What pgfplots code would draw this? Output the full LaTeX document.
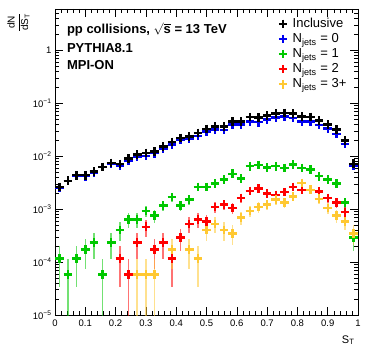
\documentclass[border=0pt]{standalone}
\usepackage{fontspec}
\setmainfont{Liberation Sans}
\usepackage{amsmath}
\usepackage{pgfplots}
\pgfplotsset{compat=1.18}

\definecolor{njzero}{RGB}{0,0,240}
\definecolor{njone}{RGB}{0,200,0}
\definecolor{njtwo}{RGB}{255,0,0}
\definecolor{njthree}{RGB}{255,200,50}

% ROOT-like points: thick cross, lighter vertical error bar
\pgfplotsset{
  stpts/.style={only marks, mark=+, mark size=4.3pt, color=#1,
    mark options={line width=2.4pt, color=#1},
    /pgfplots/error bars/y dir=both,
    /pgfplots/error bars/y explicit,
    /pgfplots/error bars/error mark=none,
    /pgfplots/error bars/error bar style={line width=1.6pt, color=#1, opacity=0.55}},
  stleg/.style={only marks, mark=+, mark size=4.3pt, mark options={line width=2.4pt, color=#1}},
}

\begin{document}
\begin{tikzpicture}
\useasboundingbox (-55pt,-40pt) rectangle (311pt,315pt);
\begin{axis}[
    scale only axis,
    width=303pt, height=306pt,
    xmin=0, xmax=1,
    ymode=log, ymin=1e-5, ymax=6,
    axis line style={line width=0.6pt},
    tick style={black, line width=0.5pt},
    major tick length=8pt, minor tick length=4pt,
    tick align=inside, xtick pos=both, ytick pos=both,
    xtick={0,0.1,0.2,0.3,0.4,0.5,0.6,0.7,0.8,0.9,1},
    xticklabels={0,0.1,0.2,0.3,0.4,0.5,0.6,0.7,0.8,0.9,1},
    minor x tick num=4,
    ytick={1e-5,1e-4,1e-3,1e-2,1e-1,1},
    yticklabels={10\textsuperscript{−5},10\textsuperscript{−4},10\textsuperscript{−3},10\textsuperscript{−2},10\textsuperscript{−1},1},
    minor ytick={2e-5,3e-5,4e-5,5e-5,6e-5,7e-5,8e-5,9e-5,
                 2e-4,3e-4,4e-4,5e-4,6e-4,7e-4,8e-4,9e-4,
                 2e-3,3e-3,4e-3,5e-3,6e-3,7e-3,8e-3,9e-3,
                 2e-2,3e-2,4e-2,5e-2,6e-2,7e-2,8e-2,9e-2,
                 0.2,0.3,0.4,0.5,0.6,0.7,0.8,0.9,2,3,4,5},
    ticklabel style={font=\fontsize{9.5}{11}\selectfont},
    xticklabel style={yshift=-1pt},
    legend style={at={(0.728,0.983)}, anchor=north west, draw=none, fill=none,
      font=\fontsize{13}{14}\selectfont, row sep=0.5pt},
    legend cell align=left,
    legend image code/.code={\draw[#1] plot coordinates {(0.14cm,0cm)}; \path (0.4cm,0cm);},
]

% N_jets = 0
\addplot[stpts=njzero, forget plot] table[x=x, y=y, y error=e] {
x y e
0.0143 2.494e-3 3.80e-4
0.0429 3.364e-3 4.42e-4
0.0714 4.234e-3 4.96e-4
0.1000 4.176e-3 4.92e-4
0.1286 4.930e-3 5.35e-4
0.1571 6.206e-3 6.00e-4
0.1857 7.192e-3 6.46e-4
0.2143 6.612e-3 6.19e-4
0.2429 8.294e-3 6.94e-4
0.2714 9.744e-3 7.52e-4
0.3000 1.003e-2 7.63e-4
0.3286 1.131e-2 8.10e-4
0.3571 1.392e-2 8.99e-4
0.3857 1.653e-2 9.79e-4
0.4143 2.053e-2 1.091e-3
0.4429 2.140e-2 1.114e-3
0.4714 2.401e-2 1.180e-3
0.5000 2.900e-2 1.297e-3
0.5286 3.184e-2 1.359e-3
0.5571 3.126e-2 1.347e-3
0.5857 3.938e-2 1.511e-3
0.6143 3.932e-2 1.510e-3
0.6429 4.495e-2 1.615e-3
0.6714 4.362e-2 1.591e-3
0.7000 4.878e-2 1.682e-3
0.7286 5.359e-2 1.763e-3
0.7571 5.591e-2 1.801e-3
0.7857 5.214e-2 1.739e-3
0.8143 4.495e-2 1.615e-3
0.8429 4.472e-2 1.610e-3
0.8714 3.892e-2 1.502e-3
0.9000 3.306e-2 1.385e-3
0.9286 2.651e-2 1.240e-3
0.9571 1.682e-2 9.88e-4
0.9857 6.554e-3 6.17e-4
};

% N_jets = 1
\addplot[stpts=njone, forget plot] table[x=x, y=y, y error=e] {
x y e
0.0143 1.160e-4 8.20e-5
0.0429 5.800e-5 5.74e-5
0.0714 1.160e-4 8.20e-5
0.1000 1.740e-4 1.005e-4
0.1286 2.320e-4 1.160e-4
0.1571 5.800e-5 5.74e-5
0.1857 2.320e-4 1.160e-4
0.2143 4.060e-4 1.535e-4
0.2429 6.380e-4 1.924e-4
0.2714 6.380e-4 1.924e-4
0.3000 9.280e-4 2.320e-4
0.3286 7.540e-4 2.091e-4
0.3571 1.160e-3 2.594e-4
0.3857 1.682e-3 3.123e-4
0.4143 1.160e-3 2.594e-4
0.4429 1.508e-3 2.957e-4
0.4714 2.610e-3 3.891e-4
0.5000 2.610e-3 3.891e-4
0.5286 3.016e-3 4.182e-4
0.5571 3.596e-3 4.567e-4
0.5857 4.640e-3 5.188e-4
0.6143 3.770e-3 4.676e-4
0.6429 6.438e-3 6.111e-4
0.6714 6.844e-3 6.300e-4
0.7000 6.148e-3 5.972e-4
0.7286 6.438e-3 6.111e-4
0.7571 5.974e-3 5.886e-4
0.7857 6.902e-3 6.327e-4
0.8143 5.974e-3 5.886e-4
0.8429 5.568e-3 5.683e-4
0.8714 4.176e-3 4.921e-4
0.9000 3.596e-3 4.567e-4
0.9286 3.016e-3 4.182e-4
0.9571 1.334e-3 2.782e-4
0.9857 2.900e-4 1.297e-4
};

% N_jets = 2
\addplot[stpts=njtwo, forget plot] table[x=x, y=y, y error=e] {
x y e
0.2143 1.160e-4 8.20e-5
0.2429 5.800e-5 5.74e-5
0.2714 2.320e-4 1.160e-4
0.3000 4.640e-4 1.640e-4
0.3286 1.740e-4 1.005e-4
0.3571 2.320e-4 1.160e-4
0.3857 1.160e-4 8.20e-5
0.4143 2.900e-4 1.297e-4
0.4429 5.220e-4 1.740e-4
0.4714 6.380e-4 1.924e-4
0.5000 5.800e-4 1.834e-4
0.5286 1.102e-3 2.528e-4
0.5571 1.218e-3 2.658e-4
0.5857 1.044e-3 2.461e-4
0.6143 1.624e-3 3.069e-4
0.6429 2.204e-3 3.575e-4
0.6714 2.436e-3 3.759e-4
0.7000 1.972e-3 3.382e-4
0.7286 1.856e-3 3.281e-4
0.7571 2.088e-3 3.480e-4
0.7857 2.610e-3 3.891e-4
0.8143 2.320e-3 3.668e-4
0.8429 2.320e-3 3.668e-4
0.8714 2.146e-3 3.528e-4
0.9000 1.624e-3 3.069e-4
0.9286 1.334e-3 2.782e-4
0.9571 8.700e-4 2.246e-4
};

% N_jets = 3+
\addplot[stpts=njthree, forget plot] table[x=x, y=y, y error=e] {
x y e
0.2714 5.800e-5 5.74e-5
0.3000 5.800e-5 5.74e-5
0.3286 5.800e-5 5.74e-5
0.3857 1.740e-4 1.005e-4
0.4429 1.740e-4 1.005e-4
0.4714 1.160e-4 8.20e-5
0.5000 4.060e-4 1.535e-4
0.5286 5.220e-4 1.740e-4
0.5571 4.060e-4 1.535e-4
0.5857 3.480e-4 1.420e-4
0.6143 6.960e-4 2.009e-4
0.6429 9.280e-4 2.320e-4
0.6714 1.102e-3 2.528e-4
0.7000 1.218e-3 2.658e-4
0.7286 1.508e-3 2.957e-4
0.7571 1.334e-3 2.782e-4
0.7857 1.740e-3 3.177e-4
0.8143 3.132e-3 4.262e-4
0.8429 2.320e-3 3.668e-4
0.8714 1.566e-3 3.014e-4
0.9000 1.044e-3 2.461e-4
0.9286 7.540e-4 2.091e-4
0.9571 5.800e-4 1.834e-4
0.9857 3.480e-4 1.420e-4
};

% Inclusive
\addplot[stpts=black, forget plot] table[x=x, y=y, y error=e] {
x y e
0.0143 2.610e-3 3.89e-4
0.0429 3.422e-3 4.455e-4
0.0714 4.350e-3 5.02e-4
0.1000 4.350e-3 5.02e-4
0.1286 5.162e-3 5.47e-4
0.1571 6.264e-3 6.03e-4
0.1857 7.424e-3 6.56e-4
0.2143 7.134e-3 6.43e-4
0.2429 8.990e-3 7.22e-4
0.2714 1.067e-2 7.87e-4
0.3000 1.148e-2 8.16e-4
0.3286 1.230e-2 8.44e-4
0.3571 1.531e-2 9.42e-4
0.3857 1.850e-2 1.036e-3
0.4143 2.198e-2 1.129e-3
0.4429 2.361e-2 1.170e-3
0.4714 2.738e-2 1.260e-3
0.5000 3.260e-2 1.375e-3
0.5286 3.648e-2 1.455e-3
0.5571 3.648e-2 1.455e-3
0.5857 4.541e-2 1.623e-3
0.6143 4.541e-2 1.623e-3
0.6429 5.452e-2 1.778e-3
0.6714 5.400e-2 1.770e-3
0.7000 5.812e-2 1.836e-3
0.7286 6.339e-2 1.918e-3
0.7571 6.531e-2 1.946e-3
0.7857 6.339e-2 1.918e-3
0.8143 5.638e-2 1.808e-3
0.8429 5.493e-2 1.785e-3
0.8714 4.681e-2 1.648e-3
0.9000 3.932e-2 1.510e-3
0.9286 3.161e-2 1.354e-3
0.9571 1.960e-2 1.066e-3
0.9857 7.192e-3 6.46e-4
};

\addlegendimage{stleg=black}
\addlegendentry{Inclusive}
\addlegendimage{stleg=njzero}
\addlegendentry{N\textsubscript{jets} = 0}
\addlegendimage{stleg=njone}
\addlegendentry{N\textsubscript{jets} = 1}
\addlegendimage{stleg=njtwo}
\addlegendentry{N\textsubscript{jets} = 2}
\addlegendimage{stleg=njthree}
\addlegendentry{N\textsubscript{jets} = 3+}
\end{axis}

% texts outside the clipped plot area, in pt from the axis' lower left corner
\node[anchor=base west, font=\fontsize{13}{14}\selectfont\bfseries] at (8.5pt,281.5pt)
  {pp collisions, $\sqrt{\text{s}}$ = 13 TeV};
\node[anchor=base west, font=\fontsize{13}{14}\selectfont\bfseries] at (8.5pt,262.5pt)
  {PYTHIA8.1};
\node[anchor=base west, font=\fontsize{13}{14}\selectfont\bfseries] at (8.5pt,245pt)
  {MPI-ON};
\node[anchor=north east, font=\fontsize{11}{12}\selectfont] at (303pt,-17pt)
  {S\textsubscript{T}};
\node[rotate=90, anchor=east, font=\fontsize{10}{11}\selectfont] at (-36.5pt,306pt)
  {$\dfrac{\text{dN}}{\text{dS}_{\text{T}}}$};
\end{tikzpicture}
\end{document}
